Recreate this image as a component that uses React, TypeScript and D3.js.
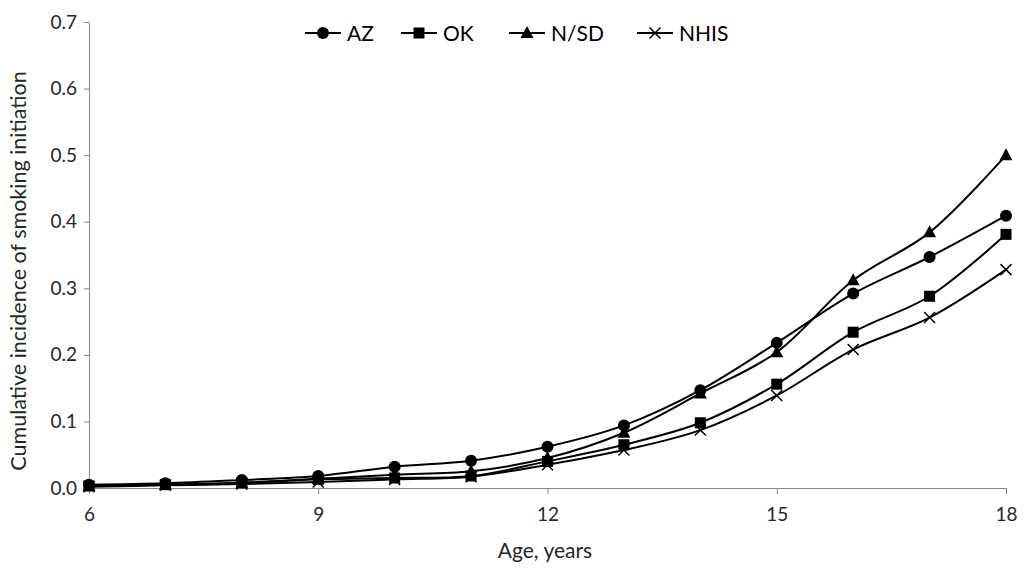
import React, { useEffect, useRef } from 'react';
import * as d3 from 'd3';

const ages = [6, 7, 8, 9, 10, 11, 12, 13, 14, 15, 16, 17, 18];
const azValues = [0.005, 0.007, 0.012, 0.018, 0.032, 0.041, 0.062, 0.094, 0.147, 0.218, 0.292, 0.347, 0.409];
const okValues = [0.003, 0.005, 0.008, 0.013, 0.015, 0.018, 0.040, 0.065, 0.098, 0.156, 0.234, 0.288, 0.381];
const nsdValues = [0.003, 0.005, 0.007, 0.014, 0.020, 0.025, 0.045, 0.083, 0.142, 0.204, 0.312, 0.384, 0.500];
const nhisValues = [0.002, 0.004, 0.006, 0.009, 0.013, 0.017, 0.035, 0.057, 0.087, 0.139, 0.208, 0.256, 0.328];
const xTicks = [6, 9, 12, 15, 18];
const yTicks = [0, 0.1, 0.2, 0.3, 0.4, 0.5, 0.6, 0.7];

type Marker = 'circle' | 'square' | 'triangle' | 'cross';

const series: { name: string; values: number[]; marker: Marker }[] = [
  { name: 'AZ', values: azValues, marker: 'circle' },
  { name: 'OK', values: okValues, marker: 'square' },
  { name: 'N/SD', values: nsdValues, marker: 'triangle' },
  { name: 'NHIS', values: nhisValues, marker: 'cross' },
];

const FONT = 'Lato, "Open Sans", sans-serif';

function drawMarker(g: d3.Selection<SVGGElement, unknown, null, undefined>, kind: Marker, cx: number, cy: number) {
  if (kind === 'circle') {
    g.append('circle').attr('cx', cx).attr('cy', cy).attr('r', 6).attr('fill', '#000');
  } else if (kind === 'square') {
    g.append('rect').attr('x', cx - 5.5).attr('y', cy - 5.5).attr('width', 11).attr('height', 11).attr('fill', '#000');
  } else if (kind === 'triangle') {
    g.append('path')
      .attr('d', `M${cx},${cy - 7}L${cx + 6.5},${cy + 5}L${cx - 6.5},${cy + 5}Z`)
      .attr('fill', '#000');
  } else {
    g.append('path')
      .attr('d', `M${cx - 5.5},${cy - 5.5}L${cx + 5.5},${cy + 5.5}M${cx + 5.5},${cy - 5.5}L${cx - 5.5},${cy + 5.5}`)
      .attr('stroke', '#000')
      .attr('stroke-width', 1.5)
      .attr('fill', 'none');
  }
}

export default function App() {
  const svgRef = useRef<SVGSVGElement>(null);

  useEffect(() => {
    if (!svgRef.current) return;
    const svg = d3.select(svgRef.current);
    svg.selectAll('*').remove();

    const left = 89;
    const right = 1006;
    const top = 22;
    const bottom = 488;

    const x = d3.scaleLinear().domain([6, 18]).range([left, right]);
    const y = d3.scaleLinear().domain([0, 0.7]).range([bottom, top]);
    const axisColor = '#868686';
    const textColor = '#262626';

    // Y axis
    const yAxis = svg.append('g')
      .attr('transform', `translate(${left},0)`)
      .call(d3.axisLeft(y).tickValues(yTicks).tickFormat(d3.format('.1f')).tickSize(5).tickSizeOuter(0));
    yAxis.select('.domain').attr('stroke', axisColor);
    yAxis.selectAll('.tick line').attr('stroke', axisColor);
    yAxis.selectAll('.tick text')
      .attr('x', -12)
      .attr('fill', textColor)
      .style('font-family', FONT)
      .style('font-size', '19px');

    // X axis
    const xAxis = svg.append('g')
      .attr('transform', `translate(0,${bottom})`)
      .call(d3.axisBottom(x).tickValues(xTicks).tickFormat(d3.format('d')).tickSize(6).tickSizeOuter(0));
    xAxis.select('.domain').attr('stroke', axisColor);
    xAxis.selectAll('.tick line').attr('stroke', axisColor);
    xAxis.selectAll('.tick text')
      .attr('y', 20)
      .attr('fill', textColor)
      .style('font-family', FONT)
      .style('font-size', '19px');

    // Axis titles
    svg.append('text')
      .attr('x', 545)
      .attr('y', 558)
      .attr('text-anchor', 'middle')
      .attr('fill', textColor)
      .style('font-family', FONT)
      .style('font-size', '21px')
      .text('Age, years');

    svg.append('text')
      .attr('transform', `translate(26,271) rotate(-90)`)
      .attr('text-anchor', 'middle')
      .attr('fill', textColor)
      .style('font-family', FONT)
      .style('font-size', '21.5px')
      .text('Cumulative incidence of smoking initiation');

    // Lines
    const line = d3.line<number>()
      .x((_, i) => x(ages[i]))
      .y((d) => y(d))
      .curve(d3.curveCatmullRom.alpha(0.5));

    series.forEach((s) => {
      svg.append('path')
        .datum(s.values)
        .attr('fill', 'none')
        .attr('stroke', '#000')
        .attr('stroke-width', 2)
        .attr('d', line);
    });

    series.forEach((s) => {
      const mg = svg.append('g');
      s.values.forEach((v, i) => drawMarker(mg, s.marker, x(ages[i]), y(v)));
    });

    // Legend
    const legendX = [305, 401, 509, 637];
    series.forEach((s, i) => {
      const lg = svg.append('g').attr('transform', `translate(${legendX[i]},33)`);
      lg.append('line').attr('x1', 0).attr('x2', 36).attr('y1', 0).attr('y2', 0)
        .attr('stroke', '#000').attr('stroke-width', 2);
      drawMarker(lg, s.marker, 18, 0);
      lg.append('text')
        .attr('x', 42)
        .attr('y', 7.5)
        .attr('fill', '#000')
        .style('font-family', FONT)
        .style('font-size', '21px')
        .text(s.name);
    });
  }, []);

  return (
    <svg
      ref={svgRef}
      width={1024}
      height={574}
      style={{ position: 'absolute', left: 0, top: 0, background: '#fff' }}
    />
  );
}
